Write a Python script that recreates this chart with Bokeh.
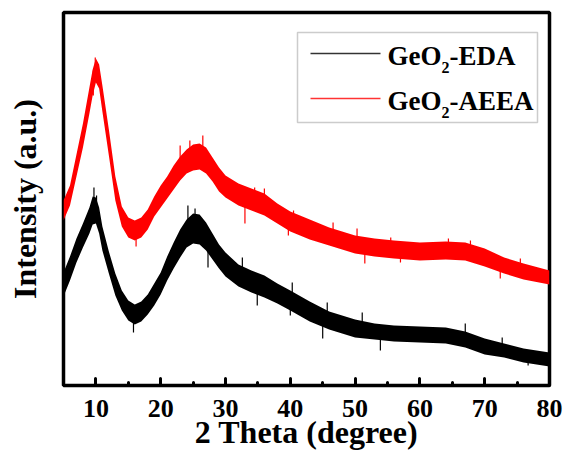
import numpy as np
from bokeh.plotting import figure
from bokeh.models import Range1d, FixedTicker, Label, BoxAnnotation
from bokeh.embed import file_html
from bokeh.resources import INLINE

# ---- data (intensity in arbitrary units) ----
two_theta = [5, 6, 7, 8, 9, 9.5, 10, 10.5, 11, 12, 13, 14, 15, 16, 17, 18, 19, 20, 21, 22,
             23, 24, 25, 26, 27, 28, 29, 30, 32, 34, 36, 38, 40, 43, 46, 50, 53, 56, 60, 64,
             67, 70, 73, 76, 80]
eda_center = [100, 116, 134, 149, 164, 174, 174, 164, 146, 122, 100, 84, 74, 70, 73, 80, 90, 101, 116, 129,
              141, 151, 156, 155, 148, 138, 128, 120, 109, 103, 98, 91, 84, 73, 64, 56, 53, 51, 50, 49,
              45, 38, 34, 29, 25]
eda_noise = [12, 12, 12, 12, 13, 14, 13, 13, 12, 11, 11, 10, 10, 10, 10, 10, 11, 11, 12, 13,
             14, 14, 15, 15, 14, 13, 12, 12, 11, 11, 11, 10, 10, 10, 9, 9, 8, 8, 8, 8,
             8, 8, 7, 7, 7]
aeea_center = [174, 189, 219, 249, 284, 302, 314, 308, 286, 242, 196, 168, 157, 154, 157, 165, 178, 188, 197, 207,
               216, 223, 227, 228, 224, 215, 205, 198, 190, 185, 180, 171, 163, 155, 148, 140, 137, 135, 133, 134,
               133, 127, 119, 113, 107]
aeea_noise = [10, 10, 11, 12, 13, 13, 12, 12, 13, 13, 12, 10, 10, 10, 10, 10, 10, 11, 11, 12,
              12, 12, 13, 13, 13, 12, 12, 11, 11, 11, 11, 10, 10, 10, 9, 9, 9, 9, 9, 9,
              9, 9, 8, 8, 7]

# individual noise spikes visible in the picture (base and tip intensity)
aeea_spike_x = [9.6, 9.9, 10.2, 16.2, 23.0, 24.5, 26.5, 33.0, 34.5, 36.0, 39.7, 40.5, 46.6,
                50.3, 51.5, 55.5, 57.0, 64.4, 67.8, 72.4, 75.5]
aeea_spike_base = [289, 304, 304, 159, 216, 224, 226, 187, 184, 180, 164, 162, 148,
                   140, 139, 135, 134, 134, 132, 120, 114]
aeea_spike_tip = [314, 327, 322, 138, 239, 244, 249, 161, 197, 196, 149, 174, 162,
                  156, 121, 147, 122, 146, 144, 106, 126]
eda_spike_x = [9.7, 10.1, 15.8, 24.2, 25.3, 27.3, 32.6, 34.9, 40.0, 40.3, 45.0, 45.7,
               51.1, 53.9, 67.0, 72.7, 76.7]
eda_spike_base = [179, 174, 69, 154, 156, 146, 110, 102, 84, 84, 66, 65,
                  55, 52, 45, 35, 29]
eda_spike_tip = [197, 189, 52, 179, 176, 117, 127, 79, 69, 102, 46, 82,
                 72, 34, 61, 47, 19]

x_ticks = [10, 20, 30, 40, 50, 60, 70, 80]
x_minor_ticks = [15, 25, 35, 45, 55, 65, 75]
series_names = ["EDA", "AEEA"]
series_colors = ["#000000", "#ff0000"]

FONT = "Liberation Serif"

p = figure(width=568, height=463, output_backend="svg", toolbar_location=None,
           x_range=Range1d(5, 80), y_range=Range1d(-1, 372),
           min_border_left=63, min_border_right=19, min_border_top=12, min_border_bottom=78)
p.background_fill_color = "white"
p.border_fill_color = "white"
p.grid.visible = False
p.outline_line_color = "black"
p.outline_line_width = 3.5

x = np.array(two_theta, dtype=float)
for center, noise, sx, sb, st, color in [
        (eda_center, eda_noise, eda_spike_x, eda_spike_base, eda_spike_tip, series_colors[0]),
        (aeea_center, aeea_noise, aeea_spike_x, aeea_spike_base, aeea_spike_tip, series_colors[1])]:
    c = np.array(center, dtype=float)
    n = np.array(noise, dtype=float)
    p.varea(x=x, y1=c - n, y2=c + n, fill_color=color)
    p.segment(x0=sx, x1=sx, y0=sb, y1=st, line_color=color, line_width=1.2)

# x axis
xa = p.xaxis[0]
xa.ticker = FixedTicker(ticks=x_ticks, minor_ticks=x_minor_ticks)
xa.axis_line_color = None
xa.major_tick_in = 7
xa.major_tick_out = 0
xa.minor_tick_in = 3
xa.minor_tick_out = 0
xa.major_tick_line_width = 3
xa.minor_tick_line_width = 3
xa.major_tick_line_cap = "round"
xa.minor_tick_line_cap = "round"
xa.major_label_text_font = FONT
xa.major_label_text_font_style = "bold"
xa.major_label_text_font_size = "26px"
xa.major_label_text_color = "black"
xa.major_label_standoff = 14
xa.axis_label = "2 Theta (degree)"
xa.axis_label_text_font = FONT
xa.axis_label_text_font_style = "bold"
xa.axis_label_text_font_size = "32px"
xa.axis_label_text_color = "black"
xa.axis_label_standoff = -6

# y axis (no ticks)
ya = p.yaxis[0]
ya.ticker = FixedTicker(ticks=[])
ya.axis_line_color = None
ya.major_tick_line_color = None
ya.minor_tick_line_color = None
ya.axis_label = "Intensity (a.u.)"
ya.axis_label_text_font = FONT
ya.axis_label_text_font_style = "bold"
ya.axis_label_text_font_size = "32px"
ya.axis_label_text_color = "black"
ya.axis_label_standoff = 21

# custom legend (screen units relative to the frame)
p.add_layout(BoxAnnotation(left=234, right=474, bottom=263, top=353,
                           left_units="screen", right_units="screen",
                           bottom_units="screen", top_units="screen",
                           fill_color="white", fill_alpha=1.0,
                           line_color="#555555", line_width=1.5))
rows_y = [332, 287]
for name, color, ly in zip(series_names, series_colors, rows_y):
    p.add_layout(BoxAnnotation(left=247, right=317, bottom=ly - 0.8, top=ly + 0.8,
                               left_units="screen", right_units="screen",
                               bottom_units="screen", top_units="screen",
                               fill_color=color, fill_alpha=0.8, line_color=None))
    base = ly - 2
    p.add_layout(Label(x=324, y=base, x_units="screen", y_units="screen", text="GeO",
                       text_font=FONT, text_font_style="bold", text_font_size="27px",
                       text_baseline="alphabetic", text_color="black"))
    p.add_layout(Label(x=378, y=base - 12, x_units="screen", y_units="screen", text="2",
                       text_font=FONT, text_font_style="bold", text_font_size="16px",
                       text_baseline="alphabetic", text_color="black"))
    p.add_layout(Label(x=386, y=base, x_units="screen", y_units="screen", text="-" + name,
                       text_font=FONT, text_font_style="bold", text_font_size="27px",
                       text_baseline="alphabetic", text_color="black"))

open("out.html", "w").write(file_html(p, INLINE))
